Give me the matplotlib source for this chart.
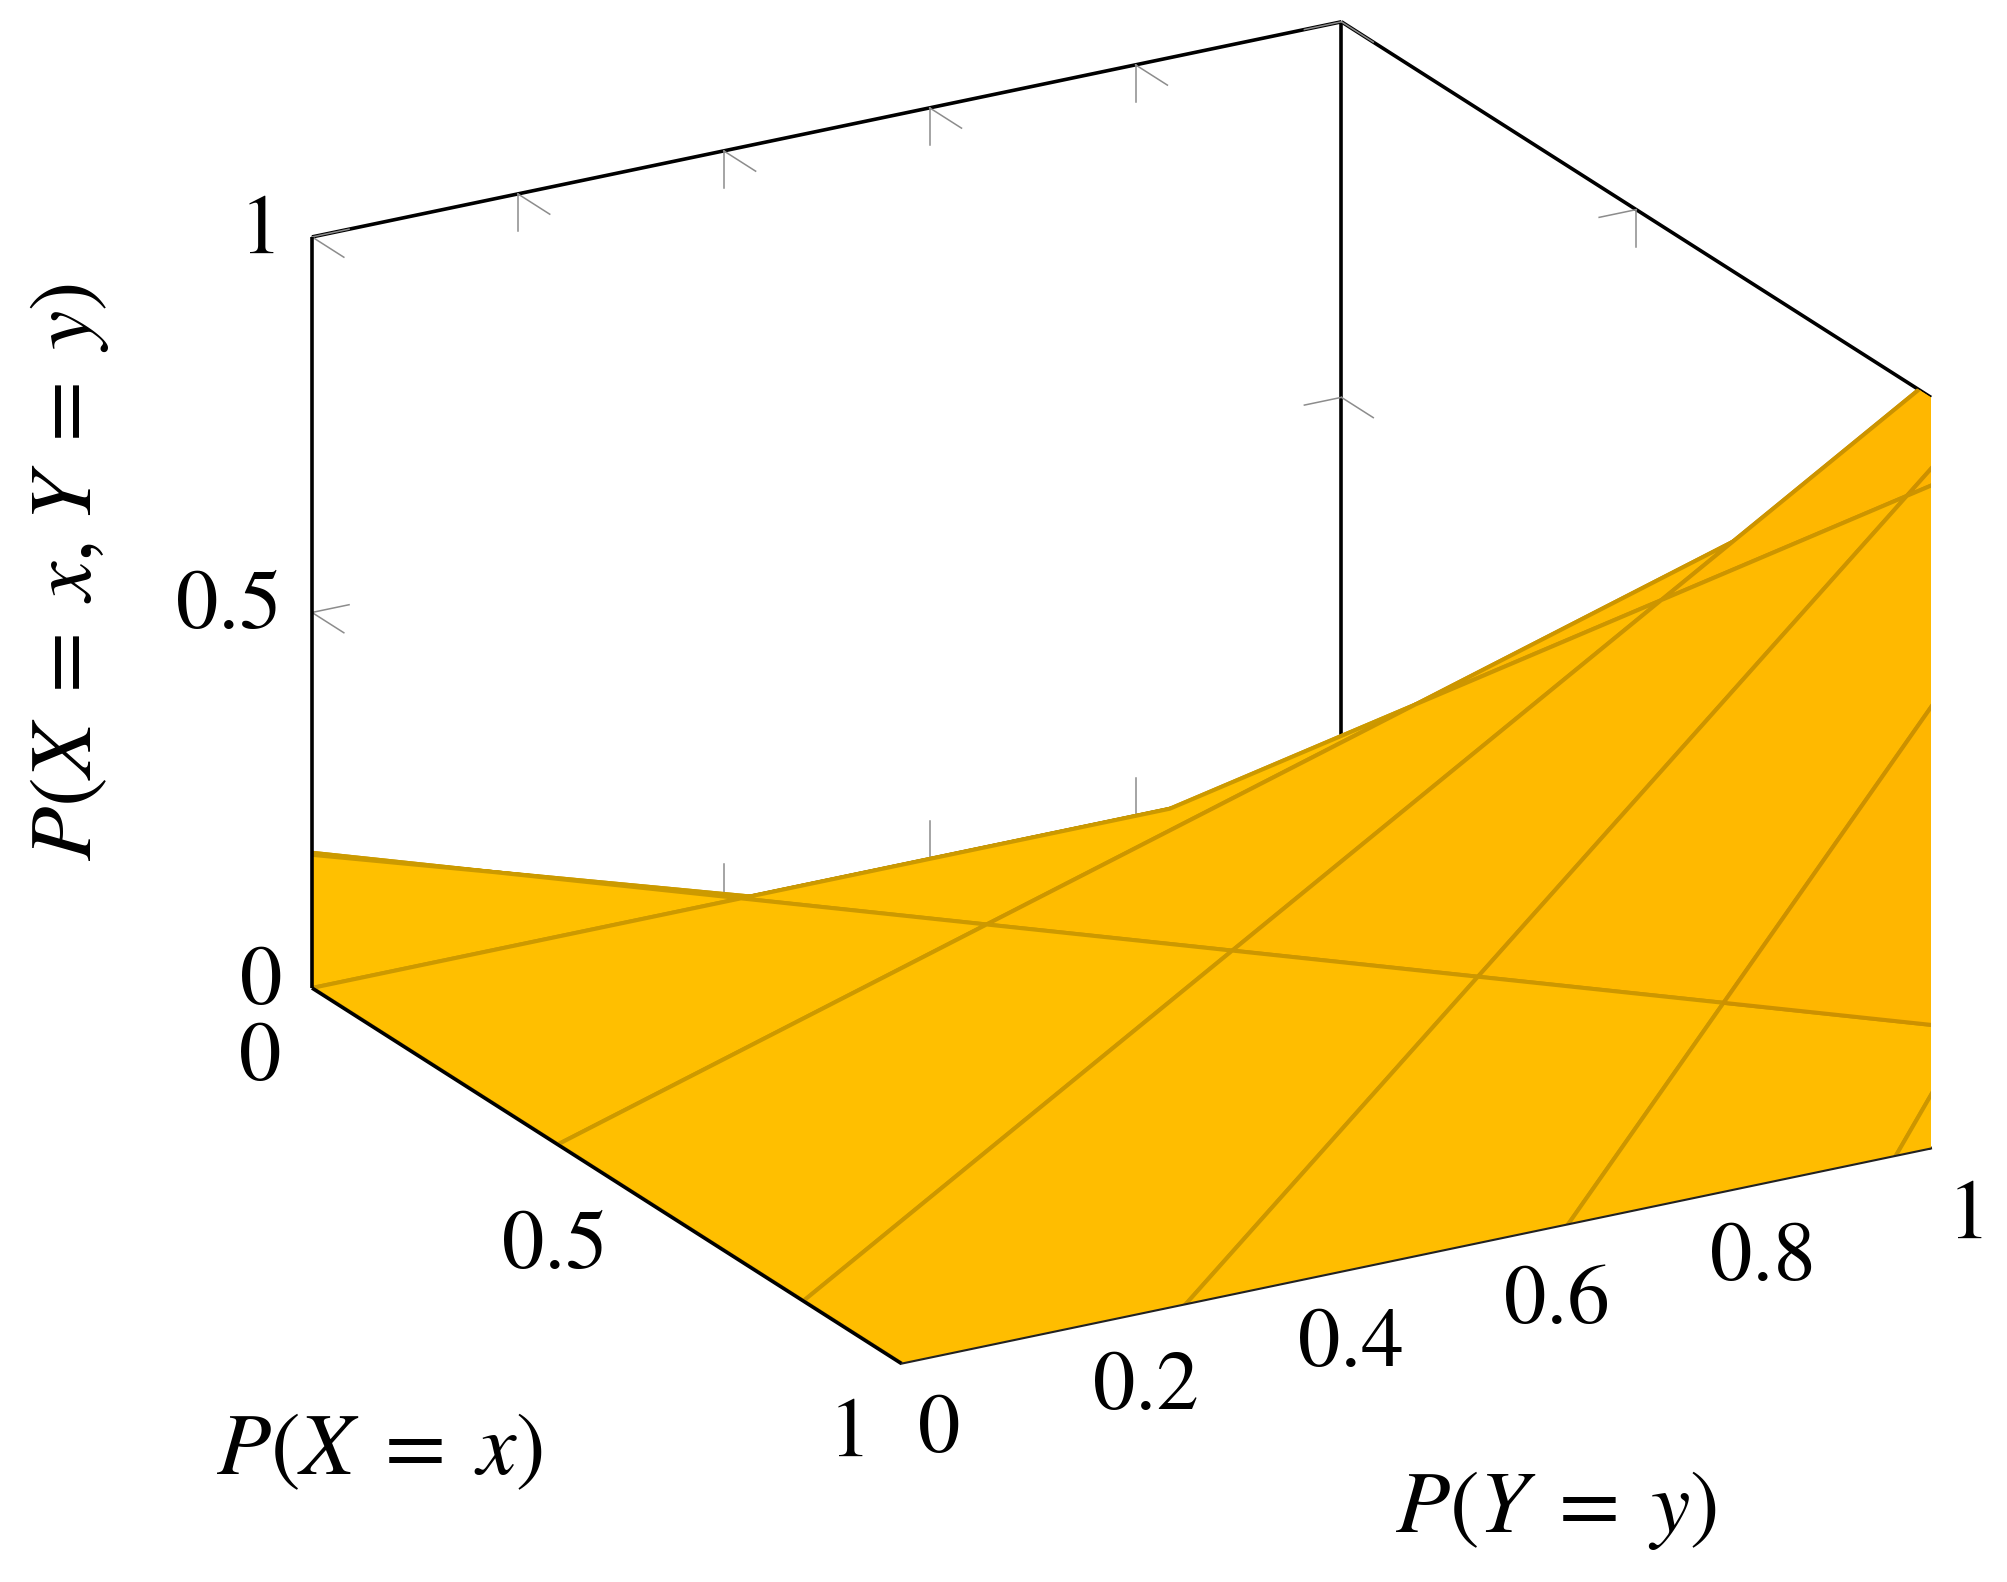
import numpy as np
import matplotlib
matplotlib.use("Agg")
import matplotlib.pyplot as plt
from matplotlib.colors import LinearSegmentedColormap
from matplotlib.path import Path
from mpl_toolkits.mplot3d import proj3d

plt.rcParams["font.family"] = ["STIXGeneral", "DejaVu Serif"]
plt.rcParams["mathtext.fontset"] = "stix"

# ---------------- data ----------------
grid_min, grid_max, n_samples = -5.0, 5.0, 25      # pgfplots default domain / samples
x_ticks = [0, 0.5, 1]
x_tick_labels = ["0", "0.5", "1"]
y_ticks = [0, 0.2, 0.4, 0.6, 0.8, 1]
y_tick_labels = ["0", "0.2", "0.4", "0.6", "0.8", "1"]
z_ticks = [0, 0.5, 1]
z_tick_labels = ["0", "0.5", "1"]
x_label = r"$P(X\;=\;x)$"
y_label = r"$P(Y\;=\;y)$"
z_label = r"$P(X\;=\;x{,}\;Y\;=\;y)$"

xs = np.linspace(grid_min, grid_max, n_samples)
ys = np.linspace(grid_min, grid_max, n_samples)
X, Y = np.meshgrid(xs, ys)
Z = X * Y          # independence: P(X=x, Y=y) = P(X=x) P(Y=y)

# ---------------- figure ----------------
W, H = 2008, 1582
fig = plt.figure(figsize=(W / 100, H / 100), dpi=100)
ax = fig.add_axes([0, 0, 1, 1], projection="3d", proj_type="ortho",
                  computed_zorder=False)
ax.view_init(elev=21.4, azim=-29.8)
ax.set_box_aspect((1, 1, 0.68))
ax.set_axis_off()

# pgfplots "hot" colormap, faceted shader
hot = LinearSegmentedColormap.from_list(
    "pgf_hot", ["#0000FF", "#FFFF00", "#FF8000", "#FF0000"])
Zc = 0.25 * (Z[:-1, :-1] + Z[1:, :-1] + Z[:-1, 1:] + Z[1:, 1:])
fnorm = (Zc - Z.min()) / (Z.max() - Z.min())
fc = hot(fnorm.ravel())
ec = fc.copy()
ec[:, :3] *= 0.8

surf = ax.plot_surface(X, Y, Z, rstride=1, cstride=1, color="#FFBF00",
                       shade=False, linewidth=2.9, antialiased=True, zorder=2)
surf.set_facecolor(fc)
surf.set_edgecolor(ec)

ax.set_xlim(0, 1)
ax.set_ylim(0, 1)
ax.set_zlim(0, 1)

# ---------------- placement of the projected box ----------------
ax.apply_aspect()


def to2d(x, y, z):
    M = ax.get_proj()
    a, b, _ = proj3d.proj_transform(np.atleast_1d(np.asarray(x, float)),
                                    np.atleast_1d(np.asarray(y, float)),
                                    np.atleast_1d(np.asarray(z, float)), M)
    return np.column_stack([a, b])


target_000 = (312.0, H - 988.0)
target_110_x = 1931.0
d = ax.transData.transform(to2d([0, 1], [0, 1], [0, 0]))
bb = ax.get_position().transformed(fig.transFigure)
k = (target_110_x - target_000[0]) / (d[1, 0] - d[0, 0])
S = bb.width * k
L = target_000[0] - k * (d[0, 0] - bb.x0)
B = target_000[1] - k * (d[0, 1] - bb.y0)
ax.set_position([L / W, B / H, S / W, S / H])
ax.apply_aspect()

# clip the surface to the outline of the projected box (as pgfplots does)
corners = np.array([[i, j, kk] for i in (0, 1) for j in (0, 1) for kk in (0, 1)], float)
pts = to2d(corners[:, 0], corners[:, 1], corners[:, 2])


def hull(p):
    p = sorted(map(tuple, p))
    def cross(o, a, b):
        return (a[0] - o[0]) * (b[1] - o[1]) - (a[1] - o[1]) * (b[0] - o[0])
    lower, upper = [], []
    for q in p:
        while len(lower) >= 2 and cross(lower[-2], lower[-1], q) <= 0:
            lower.pop()
        lower.append(q)
    for q in reversed(p):
        while len(upper) >= 2 and cross(upper[-2], upper[-1], q) <= 0:
            upper.pop()
        upper.append(q)
    return np.array(lower[:-1] + upper[:-1] + [lower[0]])


hp = hull(pts)
surf.set_clip_path(Path(hp), transform=ax.transData)

# ---------------- box lines ----------------
box_lw = 2.6
back_edges = [((0, 1, 0), (0, 1, 1)), ((0, 0, 1), (0, 1, 1)), ((0, 1, 1), (1, 1, 1)),
              ((0, 0, 0), (0, 1, 0)), ((0, 1, 0), (1, 1, 0))]
for p0, p1 in back_edges:
    ax.plot(*zip(p0, p1), color="black", lw=box_lw, zorder=1, solid_capstyle="butt")
front_edges = [((0, 0, 0), (0, 0, 1)), ((0, 0, 0), (1, 0, 0))]
for p0, p1 in front_edges:
    ax.plot(*zip(p0, p1), color="black", lw=box_lw, zorder=3, solid_capstyle="butt")
ax.plot(*zip((1, 0, 0), (1, 1, 0)), color="#222222", lw=1.5, zorder=3)

# ---------------- tick marks (gray, pointing into the box) ----------------
tx, ty, tz = 0.054, 0.036, 0.050
tick_kw = dict(color="#8c8c8c", lw=1.1, zorder=1)


def arm(p, dvec):
    ax.plot([p[0], p[0] + dvec[0]], [p[1], p[1] + dvec[1]], [p[2], p[2] + dvec[2]], **tick_kw)


for zt in z_ticks[1:]:
    arm((0, 0, zt), (tx, 0, 0)); arm((0, 0, zt), (0, ty, 0))
    arm((0, 1, zt), (tx, 0, 0)); arm((0, 1, zt), (0, -ty, 0))
for yt in y_ticks[1:-1]:
    arm((0, yt, 1), (0, 0, -tz)); arm((0, yt, 1), (tx, 0, 0))
    arm((0, yt, 0), (0, 0, tz)); arm((0, yt, 0), (tx, 0, 0))
for xt in x_ticks[1:-1]:
    arm((xt, 1, 1), (0, -ty, 0)); arm((xt, 1, 1), (0, 0, -tz))
    arm((xt, 1, 0), (0, -ty, 0)); arm((xt, 1, 0), (0, 0, tz))

# ---------------- tick labels ----------------
FS = 61
for v, s in zip(z_ticks, z_tick_labels):
    p = to2d(0, 0, v)[0]
    ax.annotate(s, xy=tuple(p), xycoords="data", xytext=(-30, 4),
                textcoords="offset pixels", ha="right", va="center",
                fontsize=FS, annotation_clip=False)
for v, s in zip(x_ticks, x_tick_labels):
    p = to2d(v, 0, 0)[0]
    ax.annotate(s, xy=tuple(p), xycoords="data", xytext=(-52, -72),
                textcoords="offset pixels", ha="center", va="center",
                fontsize=FS, annotation_clip=False)
for v, s in zip(y_ticks, y_tick_labels):
    p = to2d(1, v, 0)[0]
    ax.annotate(s, xy=tuple(p), xycoords="data", xytext=(38, -69),
                textcoords="offset pixels", ha="center", va="center",
                fontsize=FS, annotation_clip=False)

# ---------------- axis labels ----------------
LFS = 64
fig.text(380 / W, 1 - 1453 / H, x_label, fontsize=LFS, ha="center", va="center")
fig.text(1556 / W, 1 - 1511 / H, y_label, fontsize=LFS, ha="center", va="center")
fig.text(70 / W, 1 - 572 / H, z_label, fontsize=LFS, ha="center", va="center",
         rotation=90)

fig.savefig("out.png", dpi=100)
